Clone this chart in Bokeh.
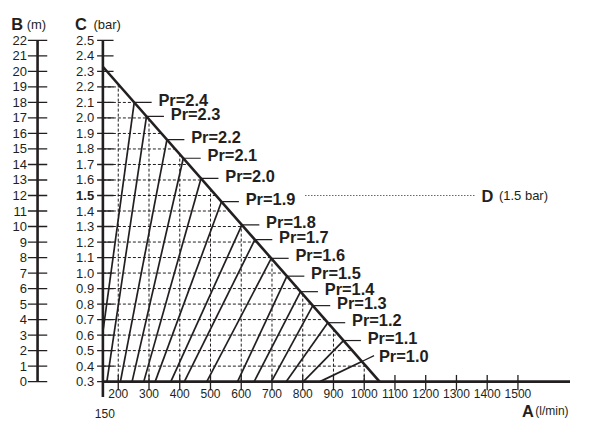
import numpy as np
from bokeh.plotting import figure
from bokeh.models import Range1d
from bokeh.core.properties import value
from bokeh.embed import file_html
from bokeh.resources import INLINE

# ---------------- data ----------------
a_ticks = [200, 300, 400, 500, 600, 700, 800, 900, 1000, 1100, 1200, 1300, 1400, 1500]
a_tick_labels = ["200", "300", "400", "500", "600", "700", "800", "900", "1000",
                 "1100", "1200", "1300", "1400", "1500"]
a_origin = 150
a_origin_label = "150"
c_ticks = [0.3, 0.4, 0.5, 0.6, 0.7, 0.8, 0.9, 1.0, 1.1, 1.2, 1.3, 1.4, 1.5, 1.6,
           1.7, 1.8, 1.9, 2.0, 2.1, 2.2, 2.3, 2.4, 2.5]
c_tick_labels = ["0.3", "0.4", "0.5", "0.6", "0.7", "0.8", "0.9", "1.0", "1.1", "1.2",
                 "1.3", "1.4", "1.5", "1.6", "1.7", "1.8", "1.9", "2.0", "2.1", "2.2",
                 "2.3", "2.4", "2.5"]
b_ticks = [0, 1, 2, 3, 4, 5, 6, 7, 8, 9, 10, 11, 12, 13, 14, 15, 16, 17, 18, 19, 20, 21, 22]
b_tick_labels = [str(v) for v in b_ticks]

# limit line (flow A vs pressure C)
diag_a = [150, 1050]
diag_c = [2.33, 0.3]

# grid
grid_c = [0.4, 0.5, 0.6, 0.7, 0.8, 0.9, 1.0, 1.1, 1.2, 1.3, 1.4, 1.5, 1.6, 1.7,
          1.8, 1.9, 2.0, 2.1, 2.2]
grid_a = [200, 300, 400, 500, 600, 700, 800, 900, 1000]

# Pr curves: start point (a, c) and pressure where they meet the limit line
pr_labels = ["Pr=2.4", "Pr=2.3", "Pr=2.2", "Pr=2.1", "Pr=2.0", "Pr=1.9", "Pr=1.8",
             "Pr=1.7", "Pr=1.6", "Pr=1.5", "Pr=1.4", "Pr=1.3", "Pr=1.2", "Pr=1.1", "Pr=1.0"]
pr_base_a = [150, 163, 207, 245, 283, 320, 371, 415, 488, 588, 642, 698, 746, 802, 856]
pr_base_c = [0.62, 0.3, 0.3, 0.3, 0.3, 0.3, 0.3, 0.3, 0.3, 0.3, 0.3, 0.3, 0.3, 0.3, 0.3]
pr_top_c = [2.10, 2.01, 1.86, 1.74, 1.61, 1.46, 1.31, 1.215, 1.095, 0.98, 0.88,
            0.79, 0.68, 0.565, 0.43]

d_level = 1.5
d_label = "(1.5 bar)"

# ---------------- layout helpers ----------------
REF_W, REF_H = 589, 441
W, H = 570, 422
kx, ky = W / REF_W, H / REF_H
k = (kx + ky) / 2
X150, SA = 105.8, 0.3177     # reference px of A=150, px per A unit
Y03, SC = 398.3, 162.1       # reference px of C=0.3, px per C unit


def ax(px):
    return 150 + (px - X150) / SA


def cy(py):
    return 0.3 + (Y03 - py) / SC


def dx(px):
    return px / SA


def dy(py):
    return py / SC


x0, x1 = ax(0), ax(REF_W)
y0, y1 = cy(REF_H), cy(0)

INK = "#231f20"
FONT = value("Liberation Sans")


def fs(px):
    return value(f"{px * k:.1f}px")


p = figure(width=W, height=H, x_range=Range1d(x0, x1), y_range=Range1d(y0, y1),
           output_backend="svg", toolbar_location=None,
           x_axis_location=None, y_axis_location=None, min_border=0)
p.grid.visible = False
p.outline_line_color = None
p.background_fill_color = "white"
p.extra_y_ranges = {"b": Range1d((y0 - 0.3) * 10, (y1 - 0.3) * 10)}

# ---------------- B axis (m) ----------------
bx = ax(38.3)
p.segment(x0=[bx], y0=[b_ticks[0]], x1=[bx], y1=[b_ticks[-1]], y_range_name="b",
          line_color=INK, line_width=2.6)
p.segment(x0=[bx - dx(10)] * len(b_ticks), y0=b_ticks, x1=[bx + dx(10)] * len(b_ticks),
          y1=b_ticks, y_range_name="b", line_color=INK, line_width=1.3)
p.text(x=[bx - dx(11)] * len(b_ticks), y=b_ticks, text=b_tick_labels, y_range_name="b",
       text_align="right", text_baseline="middle", text_font=FONT,
       text_font_size=fs(13.5), text_color=INK)

# ---------------- C axis (bar) ----------------
p.segment(x0=[a_origin], y0=[c_ticks[-1]], x1=[a_origin], y1=[c_ticks[0] - dy(16)],
          line_color=INK, line_width=2.6)
p.segment(x0=[a_origin - dx(6)] * len(c_ticks), y0=c_ticks,
          x1=[a_origin + dx(11)] * len(c_ticks), y1=c_ticks, line_color=INK, line_width=1.3)
reg = [i for i, c in enumerate(c_ticks) if c != d_level]
bold = [i for i, c in enumerate(c_ticks) if c == d_level]
p.text(x=[a_origin - dx(9)] * len(reg), y=[c_ticks[i] for i in reg],
       text=[c_tick_labels[i] for i in reg], text_align="right", text_baseline="middle",
       text_font=FONT, text_font_size=fs(13.5), text_color=INK)
p.text(x=[a_origin - dx(9)] * len(bold), y=[c_ticks[i] for i in bold],
       text=[c_tick_labels[i] for i in bold], text_align="right", text_baseline="middle",
       text_font=FONT, text_font_size=fs(13.5), text_font_style="bold", text_color=INK)

# ---------------- A axis (l/min) ----------------
p.segment(x0=[a_origin], y0=[0.3], x1=[x1], y1=[0.3], line_color=INK, line_width=2.8)
p.segment(x0=a_ticks, y0=[0.3 + dy(7)] * len(a_ticks), x1=a_ticks,
          y1=[0.3 - dy(9)] * len(a_ticks), line_color=INK, line_width=1.3)
p.text(x=a_ticks, y=[0.3 - dy(12)] * len(a_ticks), text=a_tick_labels,
       text_align="center", text_baseline="middle", text_font=FONT,
       text_font_size=fs(12.5), text_color=INK)
p.text(x=[a_origin + dx(2)], y=[0.3 - dy(33)], text=[a_origin_label],
       text_align="center", text_baseline="middle", text_font=FONT,
       text_font_size=fs(12.5), text_color=INK)

# ---------------- grid (dashed) ----------------
dr_c = diag_c[::-1]
dr_a = diag_a[::-1]
gx_end = np.interp(grid_c, dr_c, dr_a)
p.segment(x0=[a_origin] * len(grid_c), y0=grid_c, x1=gx_end, y1=grid_c,
          line_color=INK, line_width=1, line_dash="3 2")
gy_end = np.interp(grid_a, diag_a, diag_c)
p.segment(x0=grid_a, y0=[0.3] * len(grid_a), x1=grid_a, y1=gy_end,
          line_color=INK, line_width=1, line_dash="3 2")

# ---------------- Pr curves ----------------
pr_top_a = np.interp(pr_top_c, dr_c, dr_a)
p.segment(x0=pr_base_a, y0=pr_base_c, x1=pr_top_a, y1=pr_top_c,
          line_color=INK, line_width=1.7)

# leaders (horizontal) except last, which continues its line
p.segment(x0=pr_top_a[:-1], y0=pr_top_c[:-1], x1=pr_top_a[:-1] + dx(18),
          y1=pr_top_c[:-1], line_color=INK, line_width=1.2)
p.text(x=pr_top_a[:-1] + dx(25), y=pr_top_c[:-1], text=pr_labels[:-1],
       text_align="left", text_baseline="middle", y_offset=-3 * k,
       text_font=FONT, text_font_size=fs(17), text_font_style="bold", text_color=INK)
# last leader
vx = (pr_top_a[-1] - pr_base_a[-1]) * SA
vy = (pr_top_c[-1] - pr_base_c[-1]) * SC
ln = np.hypot(vx, vy)
ex = pr_top_a[-1] + dx(14 * vx / ln)
ey = pr_top_c[-1] + dy(14 * vy / ln)
p.segment(x0=[pr_top_a[-1]], y0=[pr_top_c[-1]], x1=[ex], y1=[ey],
          line_color=INK, line_width=1.2)
p.text(x=[ex + dx(5)], y=[ey], text=[pr_labels[-1]], text_align="left",
       text_baseline="middle", y_offset=0, text_font=FONT,
       text_font_size=fs(17), text_font_style="bold", text_color=INK)

# limit line
p.line(x=diag_a, y=diag_c, line_color=INK, line_width=2.6)

# ---------------- D reference ----------------
p.segment(x0=[ax(315)], y0=[d_level], x1=[ax(490)], y1=[d_level],
          line_color=INK, line_width=1, line_dash="1 2")
p.text(x=[ax(497)], y=[d_level], text=["D"], text_align="left", text_baseline="middle",
       text_font=FONT, text_font_size=fs(17), text_font_style="bold", text_color=INK)
p.text(x=[ax(515)], y=[d_level], text=[d_label], text_align="left", text_baseline="middle",
       text_font=FONT, text_font_size=fs(13.5), text_color=INK)

# ---------------- axis titles ----------------
p.text(x=[ax(11), ax(77)], y=[cy(25), cy(25)], text=["B", "C"], text_align="left",
       text_baseline="alphabetic", text_font=FONT, text_font_size=fs(17),
       text_font_style="bold", text_color=INK)
p.text(x=[ax(27), ax(96)], y=[cy(25), cy(25)], text=["(m)", "(bar)"], text_align="left",
       text_baseline="alphabetic", text_font=FONT, text_font_size=fs(13.5), text_color=INK)
p.text(x=[ax(551)], y=[cy(429)], text=["A"], text_align="right",
       text_baseline="alphabetic", text_font=FONT, text_font_size=fs(17),
       text_font_style="bold", text_color=INK)
p.text(x=[ax(587)], y=[cy(429)], text=["(l/min)"], text_align="right",
       text_baseline="alphabetic", text_font=FONT, text_font_size=fs(12.5), text_color=INK)

open("out.html", "w").write(file_html(p, INLINE))
